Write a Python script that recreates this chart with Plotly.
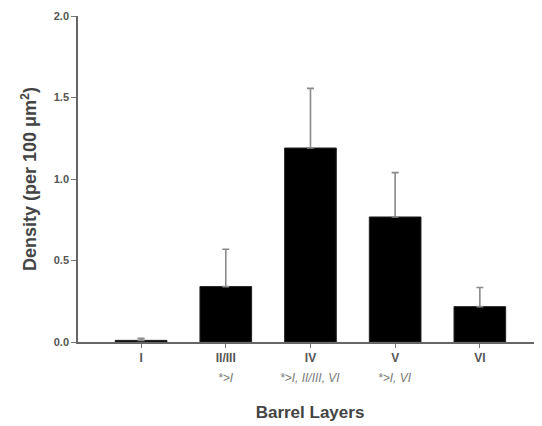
import plotly.graph_objects as go

categories = ["I", "II/III", "IV", "V", "VI"]
density = [0.01, 0.34, 1.19, 0.767, 0.217]
err_upper = [0.012, 0.229, 0.366, 0.272, 0.117]
sub_labels = ["", "*>I", "*>I, II/III, VI", "*>I, VI", ""]
y_ticks = [0.0, 0.5, 1.0, 1.5, 2.0]
y_tick_text = ["0.0", "0.5", "1.0", "1.5", "2.0"]

xs = list(range(len(categories)))
FONT = "Liberation Sans, Arial"

fig = go.Figure()
fig.add_trace(go.Bar(
    x=xs, y=density, width=0.61,
    marker=dict(color="black", line=dict(color="#222", width=1)),
    error_y=dict(type="data", symmetric=False, array=err_upper,
                 arrayminus=[0]*len(density),
                 color="#8a8a8a", thickness=1.6, width=3.5),
))

for x, s in zip(xs, sub_labels):
    if s:
        fig.add_annotation(x=x, y=0, xref="x", yref="y", yshift=-36,
                           text="<i>" + s + "</i>", showarrow=False,
                           font=dict(family=FONT, size=12, color="#7a7a7a"),
                           xanchor="center", yanchor="middle")

# page body has an 8px margin: offset figure so plot area lands at x 78..542, y 16..342
fig.update_layout(
    width=534, height=418,
    margin=dict(l=70, r=0, t=8, b=84),
    paper_bgcolor="white", plot_bgcolor="white",
    showlegend=False,
    font=dict(family=FONT, color="#444"),
    xaxis=dict(
        range=[-0.745, 4.734], tickmode="array", tickvals=xs, ticktext=categories,
        showgrid=False, zeroline=False, showline=True, linecolor="#666", linewidth=1.6,
        ticks="outside", ticklen=4, tickcolor="#777", tickwidth=1,
        tickfont=dict(size=12, color="#555", family=FONT, weight="bold"),
        title=dict(text="<b>Barrel Layers</b>", font=dict(size=17, color="#444"), standoff=42),
    ),
    yaxis=dict(
        range=[0, 2.0], tickmode="array", tickvals=y_ticks, ticktext=y_tick_text,
        showgrid=False, zeroline=False, showline=True, linecolor="#666", linewidth=1.6,
        ticks="outside", ticklen=5, tickcolor="#777", tickwidth=1,
        tickfont=dict(size=11, color="#555", family=FONT, weight="bold"),
        title=dict(text="<b>Density (per 100 \u03bcm<sup>2</sup>)</b>", font=dict(size=18, color="#444"), standoff=12),
    ),
)

fig.write_html("out.html")
